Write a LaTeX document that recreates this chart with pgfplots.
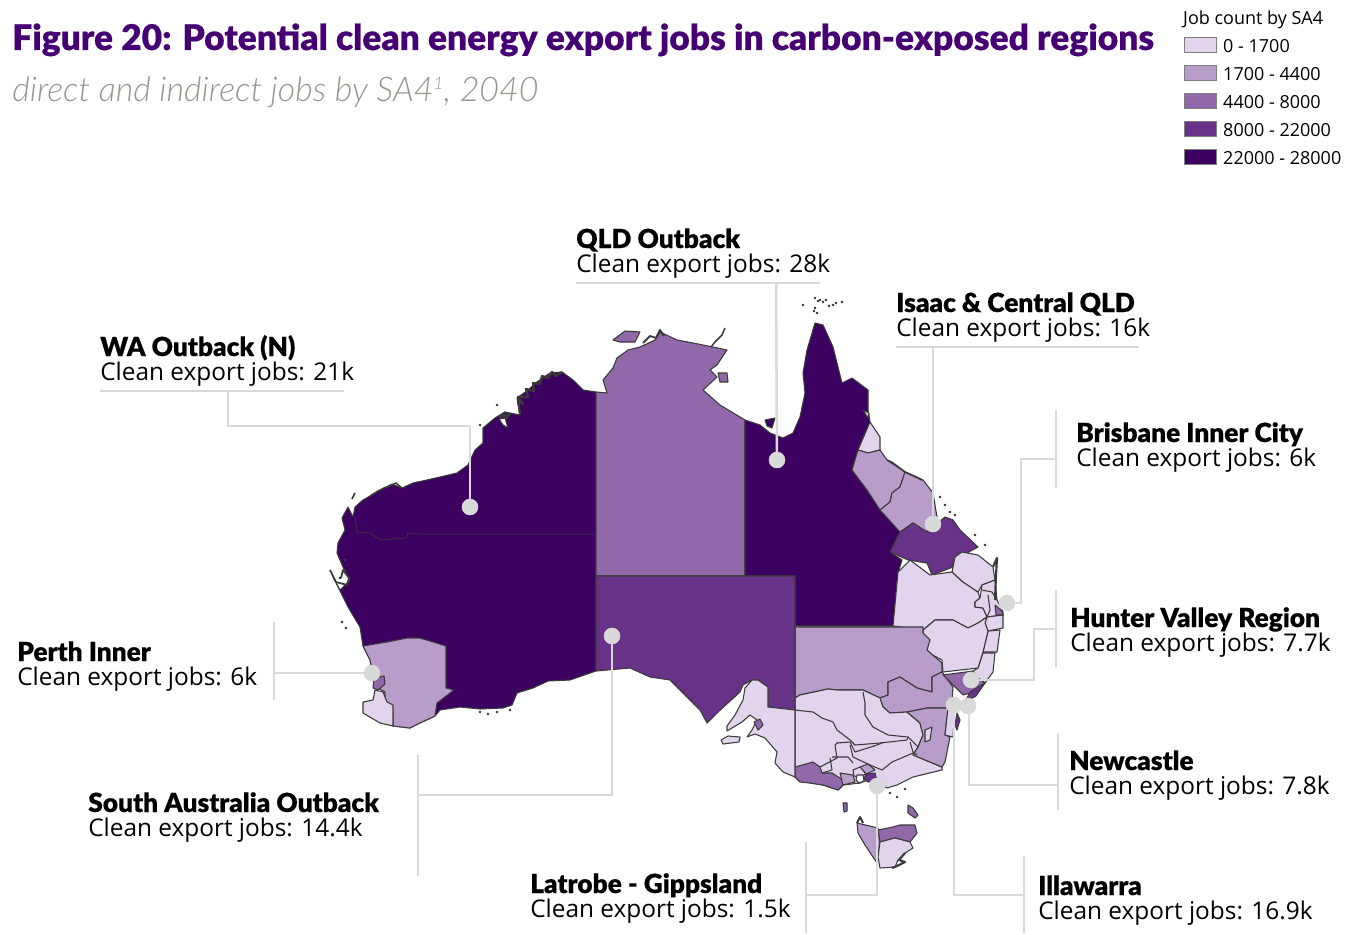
\documentclass[border=0pt]{standalone}
\usepackage{fontspec}
\usepackage{pgfplots}
\pgfplotsset{compat=1.18}
\setmainfont{Open Sans}
\newfontfamily\blk[FakeBold=0.35]{Lato Black}
\newfontfamily\ltn[ItalicFont={Lato Light Italic}]{Lato Light}
\definecolor{cA}{HTML}{E2D4EC}
\definecolor{cB}{HTML}{B89CCA}
\definecolor{cC}{HTML}{9169AA}
\definecolor{cD}{HTML}{673287}
\definecolor{cE}{HTML}{3C0061}
\definecolor{edge}{HTML}{3A3A3A}
\definecolor{lead}{HTML}{D9D9D9}
\definecolor{ttl}{HTML}{460073}
\definecolor{sub}{HTML}{96968C}
\pgfplotsset{
  reg/.style={fill=#1,draw=edge,line width=0.8pt,line join=round,forget plot},
  bline/.style={draw=edge,line width=0.8pt,line join=round,forget plot},
  lnk/.style={draw=lead,line width=1.9pt,forget plot},
  dot/.style={only marks,mark=*,mark size=6pt,mark options={fill=lead,draw=lead},forget plot}
}
\newcommand{\lab}[4]{%
  \node[anchor=base west,inner sep=0pt,font=\fontsize{19.7}{19.7}\selectfont\blk] at (axis cs:#1,#2+1) {#3};
  \node[anchor=base west,inner sep=0pt,font=\fontsize{18.3}{18.3}\selectfont] at (axis cs:#1,#2+25) {Clean export jobs: #4};
}
\begin{document}
\begin{tikzpicture}
\begin{axis}[
  scale only axis,width=1008.75pt,height=699.75pt,
  xmin=0,xmax=1345,ymin=0,ymax=933,y dir=reverse,
  hide axis,clip=false,
  legend style={at={(axis cs:1184,13)},anchor=north west,draw=none,fill=none,
    inner sep=0pt,outer sep=0pt,font=\fontsize{13.5}{13.5}\selectfont,
    row sep=10pt,
    /tikz/every even column/.append style={column sep=0pt},
    nodes={inner sep=0pt,anchor=base west,text height=9pt,text depth=2pt}},
  legend cell align=left,
  legend image code/.code={\path (0pt,0pt) (24pt,0pt);
    \draw[#1,line width=0.7pt,overlay] (0pt,0.3pt) rectangle (24pt,11.5pt);},
]
\addlegendimage{empty legend}\addlegendentry{\hspace{-25pt}Job count by SA4}
\addlegendimage{fill=cA,draw=gray}\addlegendentry{\hspace{5pt}0 - 1700}
\addlegendimage{fill=cB,draw=gray}\addlegendentry{\hspace{5pt}1700 - 4400}
\addlegendimage{fill=cC,draw=gray}\addlegendentry{\hspace{5pt}4400 - 8000}
\addlegendimage{fill=cD,draw=gray}\addlegendentry{\hspace{5pt}8000 - 22000}
\addlegendimage{fill=cE,draw=gray}\addlegendentry{\hspace{5pt}22000 - 28000}

% page frame
\addplot[draw=none,forget plot] coordinates {(0,0)(1345,933)};

% WA outback
\addplot[reg=cE] coordinates {(596,392)(583,390)(573,380)(562,372)(550,373)(537,382)(528,390)(517,398)(520,415)(505,412)(495,418)(483,428)(483,443)(475,450)(468,465)(457,473)(440,477)(427,480)(413,483)(402,488)(392,484)(377,492)(363,500)(355,507)(353,517)(348,507)(342,518)(345,530)(338,543)(337,553)(343,567)(350,580)(340,590)(333,577)(343,597)(348,607)(360,627)(363,646)(370,660)(375,683)(385,692)(393,726)(410,728)(420,723)(435,716)(440,710)(460,707)(480,709)(503,708)(512,705)(517,693)(533,688)(548,681)(570,680)(596,671)} --cycle;
\addplot[draw=edge,line width=0.5pt,forget plot] coordinates {(596,534)(420,534)(408,533)(407,538)(380,540)(370,533)(357,532)(355,517)};
% WA coast rough bits
\addplot[bline,line width=1.7pt] coordinates {(562,372)(556,376)(552,372)(548,378)(542,376)(540,384)(533,383)(534,391)(526,389)(528,397)(518,397)(523,404)(518,400)(520,414)};
\addplot[bline,line width=1.6pt] coordinates {(505,412)(500,417)(510,414)(503,422)};
\addplot[bline,fill=white] coordinates {(499,419)(505,418)(508,428)(503,425)} --cycle;
\addplot[bline,line width=1.1pt] coordinates {(402,488)(396,483)(390,486)(384,488)(378,491)(370,496)};
\addplot[bline,line width=1.3pt] coordinates {(330,570)(336,582)(347,585)(349,578)(343,570)(341,578)};
\addplot[bline,line width=1.2pt] coordinates {(352,499)(355,493)};
% South west WA
\addplot[reg=cB] coordinates {(363,646)(387,642)(407,638)(420,638)(446,646)(446,688)(454,690)(437,703)(435,716)(420,723)(410,728)(393,726)(393,715)(392,705)(385,702)(385,692)(378,688)(375,683)(370,660)} --cycle;
\addplot[reg=cA] coordinates {(375,690)(383,692)(387,702)(393,705)(393,726)(380,723)(363,713)(363,702)(373,700)} --cycle;
\addplot[reg=cC] coordinates {(374,678)(384,676)(385,684)(378,690)(373,688)} --cycle;

% NT
\addplot[reg=cC] coordinates {(596,392)(607,393)(603,380)(613,368)(617,358)(628,350)(640,347)(655,340)(660,332)(677,340)(693,343)(713,347)(727,350)(717,365)(710,370)(717,377)(703,390)(720,405)(745,420)(745,576)(596,576)} --cycle;
\addplot[reg=cC] coordinates {(613,340)(625,331)(640,332)(635,342)(620,342)} --cycle;
\addplot[reg=cC] coordinates {(718,373)(727,373)(728,382)(720,382)} --cycle;
\addplot[bline,line width=1.4pt] coordinates {(643,343)(650,336)(656,338)(660,330)(664,336)};
\addplot[bline,line width=1.1pt] coordinates {(725,328)(722,335)(715,342)(711,347)};

% QLD outback
\addplot[reg=cE] coordinates {(745,420)(760,425)(770,433)(783,438)(793,433)(800,417)(805,393)(803,373)(807,350)(815,323)(823,325)(833,347)(842,383)(852,378)(868,390)(868,410)(870,422)(858,450)(852,470)(867,490)(880,510)(900,532)(890,552)(902,560)(898,573)(895,607)(893,626)(795,626)(795,576)(745,576)} --cycle;
\addplot[reg=cE] coordinates {(765,420)(775,418)(772,428)(767,426)} --cycle;
% QLD coast regions
\addplot[reg=cA] coordinates {(870,422)(880,437)(880,450)(868,453)(858,450)} --cycle;
\addplot[reg=cA] coordinates {(863,410)(869,413)(868,418)} --cycle;
\addplot[reg=cB] coordinates {(858,450)(868,453)(880,450)(887,460)(905,472)(900,487)(892,493)(890,502)(880,510)(867,490)(852,470)} --cycle;
\addplot[reg=cB] coordinates {(905,472)(923,480)(933,493)(937,517)(927,532)(913,523)(900,532)(880,510)(890,502)(892,493)(900,487)} --cycle;
\addplot[reg=cD] coordinates {(900,532)(913,523)(927,532)(945,517)(953,520)(960,530)(978,547)(967,553)(952,565)(953,567)(932,575)(927,563)(908,560)(890,552)} --cycle;
\addplot[reg=cA] coordinates {(898,572)(910,560)(930,575)(952,572)(955,575)(963,582)(978,592)(980,598)(975,602)(975,607)(983,608)(987,617)(978,623)(968,628)(953,620)(935,620)(923,630)(893,626)} --cycle;
\addplot[reg=cA] coordinates {(952,572)(955,557)(962,552)(978,555)(993,567)(995,580)(982,585)(978,592)(963,582)} --cycle;
\addplot[reg=cA] coordinates {(995,580)(997,600)(1003,612)(1003,615)(987,617)(983,608)(975,607)(975,602)(980,598)(982,585)} --cycle;
\addplot[bline] coordinates {(982,590)(992,592)(997,600)};
\addplot[bline] coordinates {(988,595)(990,610)(987,617)};
\addplot[reg=cC] coordinates {(995,605)(1002,611)(1003,615)(996,615)} --cycle;
\addplot[bline,line width=1.6pt] coordinates {(993,567)(997,558)(996,575)(995,600)};
\addplot[bline,line width=1.2pt] coordinates {(887,460)(893,463)(905,472)(914,476)(922,480)};

% NSW
\addplot[reg=cA] coordinates {(987,617)(1003,615)(1003,628)(988,631)(985,623)} --cycle;
\addplot[reg=cA] coordinates {(988,631)(1000,630)(997,652)(983,652)} --cycle;
\addplot[reg=cA] coordinates {(983,653)(995,653)(993,672)(985,683)(970,673)(978,668)} --cycle;
\addplot[reg=cA] coordinates {(923,630)(935,620)(953,620)(968,628)(978,623)(987,617)(985,623)(988,631)(983,652)(978,668)(943,672)(942,660)(927,652)(928,640)(923,635)} --cycle;
\addplot[reg=cB] coordinates {(795,627)(923,627)(923,633)(930,640)(927,650)(942,663)(942,672)(932,677)(932,692)(917,688)(900,677)(888,682)(888,695)(880,698)(863,690)(837,690)(828,689)(800,695)(795,698)} --cycle;
\addplot[reg=cB] coordinates {(880,698)(888,695)(888,682)(900,677)(917,688)(932,692)(932,677)(942,672)(953,687)(952,700)(948,708)(927,708)(907,712)(890,713)(883,707)} --cycle;
\addplot[reg=cC] coordinates {(943,675)(973,671)(978,678)(985,683)(975,692)(963,695)(955,687)} --cycle;
\addplot[reg=cD] coordinates {(970,692)(985,683)(976,696)(965,702)} --cycle;

% south-eastern base, light
\addplot[reg=cA] coordinates {(795,698)(800,695)(828,689)(837,690)(863,690)(880,698)(883,707)(890,713)(907,712)(920,723)(923,735)(918,747)(913,755)(942,767)(942,770)(913,777)(897,785)(887,788)(877,783)(868,780)(860,783)(843,785)(838,790)(823,785)(810,783)(795,777)} --cycle;
\addplot[reg=cB] coordinates {(907,712)(927,708)(948,708)(945,735)(950,737)(945,762)(942,767)(913,755)(918,747)(923,735)(920,723)} --cycle;
\addplot[reg=cA] coordinates {(925,730)(932,727)(930,740)(925,742)} --cycle;
\addplot[reg=cA] coordinates {(948,708)(952,700)(955,705)(953,737)(945,735)} --cycle;
\addplot[reg=cD] coordinates {(957,713)(960,720)(957,730)(955,725)} --cycle;
\addplot[bline] coordinates {(863,692)(865,703)(865,715)(873,727)(888,735)(908,737)(918,747)};
\addplot[bline] coordinates {(795,710)(813,712)(822,718)(833,722)(837,730)(850,740)(855,745)(880,743)(907,740)(908,737)};
\addplot[bline] coordinates {(837,743)(850,742)(855,752)(877,745)(882,743)};
\addplot[bline] coordinates {(820,767)(837,758)(835,745)(838,742)};
\addplot[bline] coordinates {(910,742)(913,752)(917,755)};
\addplot[bline] coordinates {(913,753)(892,762)(882,770)(870,765)};
\addplot[bline] coordinates {(832,757)(848,757)(853,763)};
\addplot[bline] coordinates {(830,758)(832,770)(822,773)};
\addplot[bline] coordinates {(850,745)(853,757)(870,765)};
% Victoria coast regions
\addplot[reg=cC] coordinates {(795,767)(813,762)(820,767)(822,773)(832,773)(843,780)(843,785)(838,790)(823,785)(810,783)(800,782)(795,777)} --cycle;
\addplot[reg=cB] coordinates {(840,773)(853,775)(855,782)(843,785)} --cycle;
\addplot[reg=cB] coordinates {(860,767)(868,764)(875,770)(866,774)} --cycle;
\addplot[reg=cA] coordinates {(853,770)(860,767)(866,774)(859,777)(854,776)} --cycle;
\addplot[reg=cD] coordinates {(866,774)(875,773)(877,781)(868,782)(864,779)} --cycle;
\addplot[reg=white] coordinates {(857,775)(863,775)(864,781)(859,783)(856,780)} --cycle;

% SA
\addplot[reg=cD] coordinates {(596,576)(795,576)(795,710)(780,709)(768,707)(768,687)(758,685)(758,680)(750,681)(743,685)(740,692)(717,713)(707,723)(700,710)(670,680)(650,677)(630,668)(596,671)} --cycle;
\addplot[reg=cA] coordinates {(758,680)(768,687)(768,707)(795,710)(795,777)(783,772)(775,763)(777,752)(765,738)(755,734)(747,737)(752,730)(757,720)(750,715)(742,722)(727,731)(727,726)(735,715)(743,700)(745,688)(752,680)} --cycle;
\addplot[reg=cC] coordinates {(754,722)(760,719)(763,725)(758,730)} --cycle;
\addplot[reg=cA] coordinates {(721,740)(728,736)(740,737)(739,742)(723,744)} --cycle;

% Tasmania and islands
\addplot[reg=cB] coordinates {(857,823)(878,828)(880,842)(878,857)(877,863)(865,845)(858,833)} --cycle;
\addplot[reg=cC] coordinates {(878,830)(893,827)(900,825)(915,825)(917,833)(910,842)(895,838)(880,842)} --cycle;
\addplot[reg=cA] coordinates {(880,842)(895,838)(910,842)(913,848)(905,853)(898,860)(895,867)(880,868)(878,857)} --cycle;
\addplot[reg=cC] coordinates {(908,805)(913,808)(918,815)(915,818)(908,813)} --cycle;
\addplot[reg=cC] coordinates {(843,803)(847,803)(847,811)(844,812)} --cycle;
\addplot[bline,line width=1.6pt] coordinates {(905,853)(899,860)(905,862)(897,866)(892,868)};
\addplot[bline,line width=1.5pt] coordinates {(857,823)(860,817)(863,823)};

% small islands off the coast
\addplot[only marks,mark=*,mark size=0.8pt,color=edge,forget plot] coordinates {
 (815,298)(818,301)(823,302)(829,306)(833,305)(842,302)(803,305)(817,313)(814,311)(836,303)(815,308)(820,300)(826,300)
 (940,497)(945,505)(950,512)(955,515)(975,535)(985,545)(997,560)
 (480,425)(497,405)(345,560)(340,578)(342,622)(346,628)
 (882,788)(890,793)(897,797)(905,789)
 (480,712)(488,714)(497,712)(510,710)
};

% leader lines
\addplot[lnk] coordinates {(576,283)(820,283)};
\addplot[lnk] coordinates {(776,283)(777,460)};
\addplot[lnk] coordinates {(100,391)(344,391)};
\addplot[lnk] coordinates {(228,391)(228,426)(470,426)(470,507)};
\addplot[lnk] coordinates {(896,347)(1139,347)};
\addplot[lnk] coordinates {(933,347)(933,524)};
\addplot[lnk] coordinates {(1056,410)(1056,488)};
\addplot[lnk] coordinates {(1056,459)(1021,459)(1021,603)(1007,603)};
\addplot[lnk] coordinates {(1056,590)(1056,667)};
\addplot[lnk] coordinates {(1056,629)(1034,629)(1034,680)(971,680)};
\addplot[lnk] coordinates {(1058,733)(1058,810)};
\addplot[lnk] coordinates {(1058,785)(969,785)(969,706)};
\addplot[lnk] coordinates {(1024,856)(1024,933)};
\addplot[lnk] coordinates {(1024,895)(954,895)(954,705)};
\addplot[lnk] coordinates {(806,842)(806,933)};
\addplot[lnk] coordinates {(806,895)(877,895)(877,786)};
\addplot[lnk] coordinates {(418,755)(418,876)};
\addplot[lnk] coordinates {(418,795)(612,795)(612,636)};
\addplot[lnk] coordinates {(274,622)(274,700)};
\addplot[lnk] coordinates {(274,673)(372,673)};
\addplot[dot] coordinates {(777,460)(470,507)(933,524)(1007,603)(971,680)(968,706)(954,705)(877,786)(612,636)(372,673)};

% title
\node[anchor=base west,inner sep=0pt,text=ttl,font=\fontsize{26.5}{26.5}\selectfont\blk] at (axis cs:12,50) {Figure 20: Potential clean energy export jobs in carbon-exposed regions};
\node[anchor=base west,inner sep=0pt,text=sub,font=\fontsize{25.5}{25.5}\selectfont\ltn\itshape] at (axis cs:12,102) {direct and indirect jobs by SA4\textsuperscript{\fontsize{13}{13}\selectfont 1}, 2040};

% callouts
\lab{576}{247}{QLD Outback}{28k}
\lab{100}{355}{WA Outback (N)}{21k}
\lab{896}{311}{Isaac \& Central QLD}{16k}
\lab{1076}{441}{Brisbane Inner City}{6k}
\lab{1070}{626}{Hunter Valley Region}{7.7k}
\lab{1069}{769}{Newcastle}{7.8k}
\lab{1038}{894}{Illawarra}{16.9k}
\lab{530}{892}{Latrobe - Gippsland}{1.5k}
\lab{88}{811}{South Australia Outback}{14.4k}
\lab{17}{660}{Perth Inner}{6k}
\end{axis}
\end{tikzpicture}
\end{document}
